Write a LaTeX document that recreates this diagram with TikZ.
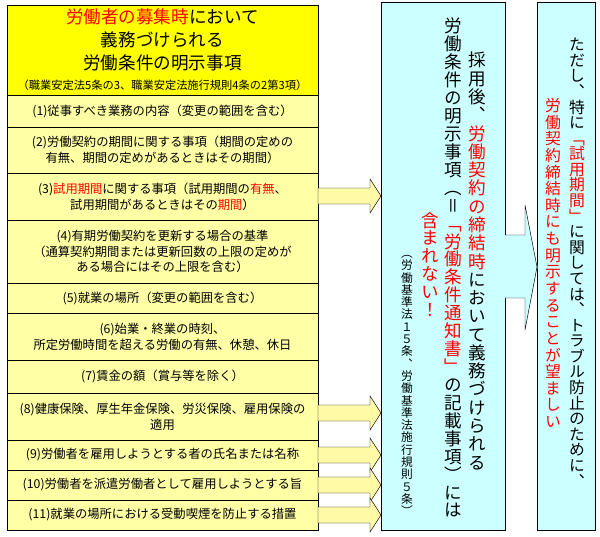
\documentclass[tikz,border=0pt]{standalone}
\usepackage{fontspec}
\setmainfont{Noto Sans CJK JP}
\newfontfamily\vjp[RawFeature=+vert]{Noto Sans CJK JP}
\usepackage{tikz}

% vertical text: one box per character
\def\vtend{\vtend}
\newcommand\vt[1]{\vtloop#1\vtend}
\def\vtloop#1{\ifx#1\vtend\else\hbox to 1em{\hss#1\hss}\expandafter\vtloop\fi}
\newcommand\vcol[3]{\vbox{\vjp\fontsize{#1}{#2}\selectfont\baselineskip=#2\lineskiplimit=-20pt\lineskip=0pt #3}}
\newcommand\blockarrow[1]{\fill[yellow!35,draw=black] (318,#1-8) -- (370,#1-8) -- (370,#1-17) -- (381,#1) -- (370,#1+17) -- (370,#1+8) -- (318,#1+8) -- cycle;}

\definecolor{hdyellow}{HTML}{FFFF00}
\definecolor{rowyellow}{HTML}{FFFFA6}
\definecolor{boxcyan}{HTML}{CCFFFF}

\begin{document}
\begin{tikzpicture}[x=0.03cm,y=-0.03cm,
	row/.style={draw=black,fill=rowyellow,minimum width=9.33cm,text width=9cm,align=center,inner sep=0pt,font=\fontsize{10.5}{13.5}\selectfont}]
	\useasboundingbox (0,0) rectangle (600,536);
	% left column
	\node [row,fill=hdyellow,minimum height=2.7cm,font=\fontsize{15}{19.5}\selectfont] (hd) at (162.5,50) {\textcolor{red}{労働者の募集時}において\\義務づけられる\\労働条件の明示事項\\[-2pt]{\fontsize{9.6}{12}\selectfont （職業安定法5条の3、職業安定法施行規則4条の2第3項）}};
	\node [row,minimum height=0.96cm] (r1) at (162.5,111) {(1)従事すべき業務の内容（変更の範囲を含む）};
	\node [row,minimum height=1.38cm] (r2) at (162.5,150) {(2)労働契約の期間に関する事項（期間の定めの\\有無、期間の定めがあるときはその期間）};
	\node [row,minimum height=1.41cm] (r3) at (162.5,196.5) {(3)\textcolor{red}{試用期間}に関する事項（試用期間の\textcolor{red}{有無}、\\試用期間があるときはその\textcolor{red}{期間}）};
	\node [row,minimum height=1.89cm] (r4) at (162.5,251.5) {(4)有期労働契約を更新する場合の基準\\（通算契約期間または更新回数の上限の定めが\\ある場合にはその上限を含む）};
	\node [row,minimum height=0.9cm] (r5) at (162.5,298) {(5)就業の場所（変更の範囲を含む）};
	\node [row,minimum height=1.41cm] (r6) at (162.5,336.5) {(6)始業・終業の時刻、\\所定労働時間を超える労働の有無、休憩、休日};
	\node [row,minimum height=0.99cm] (r7) at (162.5,376.5) {(7)賃金の額（賞与等を除く）};
	\node [row,minimum height=1.41cm] (r8) at (162.5,416.5) {(8)健康保険、厚生年金保険、労災保険、雇用保険の\\適用};
	\node [row,minimum height=0.9cm] (r9) at (162.5,455) {(9)労働者を雇用しようとする者の氏名または名称};
	\node [row,minimum height=0.9cm] (r10) at (162.5,485) {(10)労働者を派遣労働者として雇用しようとする旨};
	\node [row,minimum height=0.9cm] (r11) at (162.5,515) {(11)就業の場所における受動喫煙を防止する措置};
	% arrows to the middle box
	\blockarrow{196}
	\blockarrow{413}
	\blockarrow{455}
	\blockarrow{485}
	\blockarrow{515}
	% middle and right boxes
	\draw [fill=boxcyan] (381,2) rectangle (505,530);
	\draw [fill=boxcyan] (537,2) rectangle (595,530);
	\fill [boxcyan] (504,235) -- (525,235) -- (525,205) -- (537.5,267) -- (525,330) -- (525,298) -- (504,298) -- cycle;
	\draw (505,235) -- (525,235) -- (525,205) -- (537,267) -- (525,330) -- (525,298) -- (505,298);
	% vertical texts
	\node [anchor=north,inner sep=0pt] (m1) at (477,52) {\vcol{15}{15.6pt}{\vt{採用後、}{\color{red}\vt{労働契約の締結時}}\vt{において義務づけられる}}};
	\node [anchor=north,inner sep=0pt] (m2) at (453,18) {\vcol{15}{15.3pt}{\vt{労働条件の明示事項（＝}{\color{red}\vt{「労働条件通知書」}}\vt{の記載事項）には}}};
	\node [anchor=north,inner sep=0pt] (m3) at (430,212) {\vcol{15}{15.3pt}{\color{red}\vt{含まれない！}}};
	\node [anchor=north,inner sep=0pt] (m4) at (407,255) {\vcol{10}{10.5pt}{\vt{（労働基準法１５条、労働基準法施行規則５条）}}};
	\node [anchor=north,inner sep=0pt] (s1) at (577,38) {\vcol{13.5}{13.3pt}{\vt{ただし、特に}{\color{red}\vt{「試用期間」}}\vt{に関しては、トラブル防止のために、}}};
	\node [anchor=north,inner sep=0pt] (s2) at (553,98) {\vcol{13.5}{14.2pt}{\color{red}\vt{労働契約締結時にも明示することが望ましい}}};
\end{tikzpicture}
\end{document}
